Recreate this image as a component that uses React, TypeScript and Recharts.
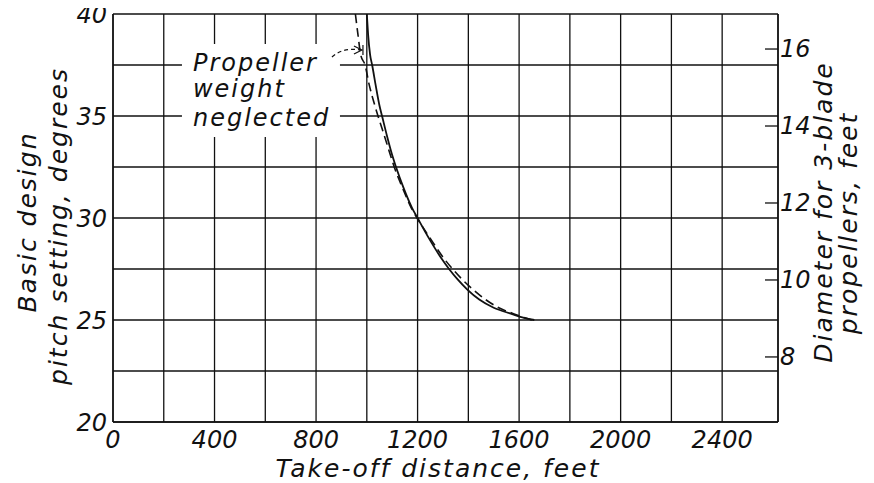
import { LineChart, Line, XAxis, YAxis, CartesianGrid, ReferenceDot } from 'recharts'

const FONT = '"DejaVu Sans", sans-serif'

const distanceTicks = [0, 200, 400, 600, 800, 1000, 1200, 1400, 1600, 1800, 2000, 2200, 2400]
const pitchTicks = [20, 22.5, 25, 27.5, 30, 32.5, 35, 37.5, 40]
const diameterTicks = [8, 10, 12, 14, 16]

// solid curve
const solidPitch = [40, 39, 38, 37.5, 36.5, 35.5, 35, 34, 33, 32.5, 31.5, 30.5, 30, 29, 28, 27.5, 27, 26.5, 26, 25.6, 25.3, 25.1, 25]
const solidDistance = [1000, 1005, 1013, 1021, 1035, 1050, 1060, 1080, 1102, 1115, 1144, 1178, 1200, 1245, 1295, 1324, 1357, 1395, 1443, 1500, 1570, 1620, 1660]

// dashed curve, propeller weight neglected
const dashedPitch = [40, 39, 38, 37.5, 36.5, 35.5, 35, 34, 33, 32.5, 31.5, 30.5, 30, 29, 28, 27.5, 27, 26.5, 26, 25.6, 25.3, 25.1, 25]
const dashedDistance = [955, 965, 976, 993, 1010, 1032, 1044, 1070, 1095, 1108, 1140, 1175, 1198, 1250, 1305, 1338, 1375, 1418, 1468, 1520, 1580, 1625, 1650]

const solidData = solidDistance.map((ft, i) => ({ ft, deg: solidPitch[i] }))
const dashedData = dashedDistance.map((ft, i) => ({ ft, deg: dashedPitch[i] }))

const tickStyle = { fontSize: 24, fontStyle: 'italic', fontFamily: FONT, fill: '#111' }

function RightTick({ x, y, payload }: any) {
  return (
    <g>
      <line x1={x - 13} x2={x} y1={y} y2={y} stroke="#111" strokeWidth={1.3} />
      <text x={x + 2} y={y} dy="0.35em" {...tickStyle}>{payload.value}</text>
    </g>
  )
}

function Note({ cx, cy }: any) {
  const t = { fontSize: 24, fontStyle: 'italic', fontFamily: FONT, fill: '#111', letterSpacing: 2 }
  return (
    <g>
      <rect x={cx - 11} y={cy - 21} width={158} height={93} fill="#fff" />
      <text x={cx} y={cy - 2} dy="0.35em" {...t}>Propeller</text>
      <text x={cx} y={cy + 24} dy="0.35em" {...t}>weight</text>
      <text x={cx} y={cy + 53} dy="0.35em" {...t}>neglected</text>
      <path d={`M${cx + 139},${cy - 8} Q${cx + 150},${cy - 18} ${cx + 168},${cy - 15}`} fill="none" stroke="#111" strokeWidth={1.2} strokeDasharray="4 3" />
      <path d={`M${cx + 161},${cy - 19} L${cx + 169},${cy - 15} L${cx + 161},${cy - 11}`} fill="none" stroke="#111" strokeWidth={1.2} />
      <line x1={cx + 170} x2={cx + 170} y1={cy - 20} y2={cy - 10} stroke="#111" strokeWidth={1.2} />
    </g>
  )
}

const titleStyle: any = {
  position: 'absolute',
  fontFamily: FONT,
  fontStyle: 'italic',
  fontSize: 25,
  letterSpacing: 2,
  color: '#111',
  whiteSpace: 'nowrap',
  lineHeight: 1,
}

function Title({ x, y, text, rotate }: { x: number; y: number; text: string; rotate?: boolean }) {
  return (
    <div style={{ ...titleStyle, left: x, top: y, transform: `translate(-50%, -50%)${rotate ? ' rotate(-90deg)' : ''}` }}>
      {text}
    </div>
  )
}

export default function App() {
  return (
    <div style={{ position: 'relative', left: -8, top: -8, width: 874, height: 483, background: '#fff' }}>
      <LineChart width={874} height={483} margin={{ top: 14, right: 0, bottom: 0, left: 0 }}>
        <CartesianGrid yAxisId="p" stroke="#111" strokeWidth={1.3} />
        <XAxis
          type="number"
          dataKey="ft"
          domain={[0, 2620]}
          ticks={distanceTicks}
          tickFormatter={(v: number) => (v % 400 === 0 ? String(v) : '')}
          height={61}
          axisLine={{ stroke: '#111', strokeWidth: 1.5 }}
          tickLine={false}
          tickSize={0}
          tickMargin={9}
          tick={tickStyle}
          interval={0}
        />
        <YAxis
          yAxisId="p"
          type="number"
          domain={[20, 40]}
          ticks={pitchTicks}
          tickFormatter={(v: number) => (v % 5 === 0 ? String(v) : '')}
          width={113}
          axisLine={{ stroke: '#111', strokeWidth: 1.5 }}
          tickLine={false}
          tickSize={0}
          tickMargin={6}
          tick={tickStyle}
          interval={0}
        />
        <YAxis
          yAxisId="d"
          orientation="right"
          type="number"
          domain={[6.31, 16.91]}
          allowDataOverflow
          ticks={diameterTicks}
          width={96}
          axisLine={{ stroke: '#111', strokeWidth: 1.5 }}
          tickLine={false}
          tickSize={0}
          tickMargin={0}
          tick={<RightTick />}
          interval={0}
        />
        <ReferenceDot yAxisId="p" x={315} y={37.5} shape={<Note />} />
        <Line
          yAxisId="p"
          data={solidData}
          dataKey="deg"
          type="monotone"
          stroke="#111"
          strokeWidth={1.8}
          dot={false}
          activeDot={false}
          isAnimationActive={false}
        />
        <Line
          yAxisId="p"
          data={dashedData}
          dataKey="deg"
          type="monotone"
          stroke="#111"
          strokeWidth={1.6}
          strokeDasharray="9 5"
          dot={false}
          activeDot={false}
          isAnimationActive={false}
        />
      </LineChart>
      <Title x={27} y={222} text="Basic design" rotate />
      <Title x={58} y={226} text="pitch setting, degrees" rotate />
      <Title x={823} y={212} text="Diameter for 3-blade" rotate />
      <Title x={848} y={223} text="propellers, feet" rotate />
      <Title x={438} y={468} text="Take-off distance, feet" />
    </div>
  )
}
